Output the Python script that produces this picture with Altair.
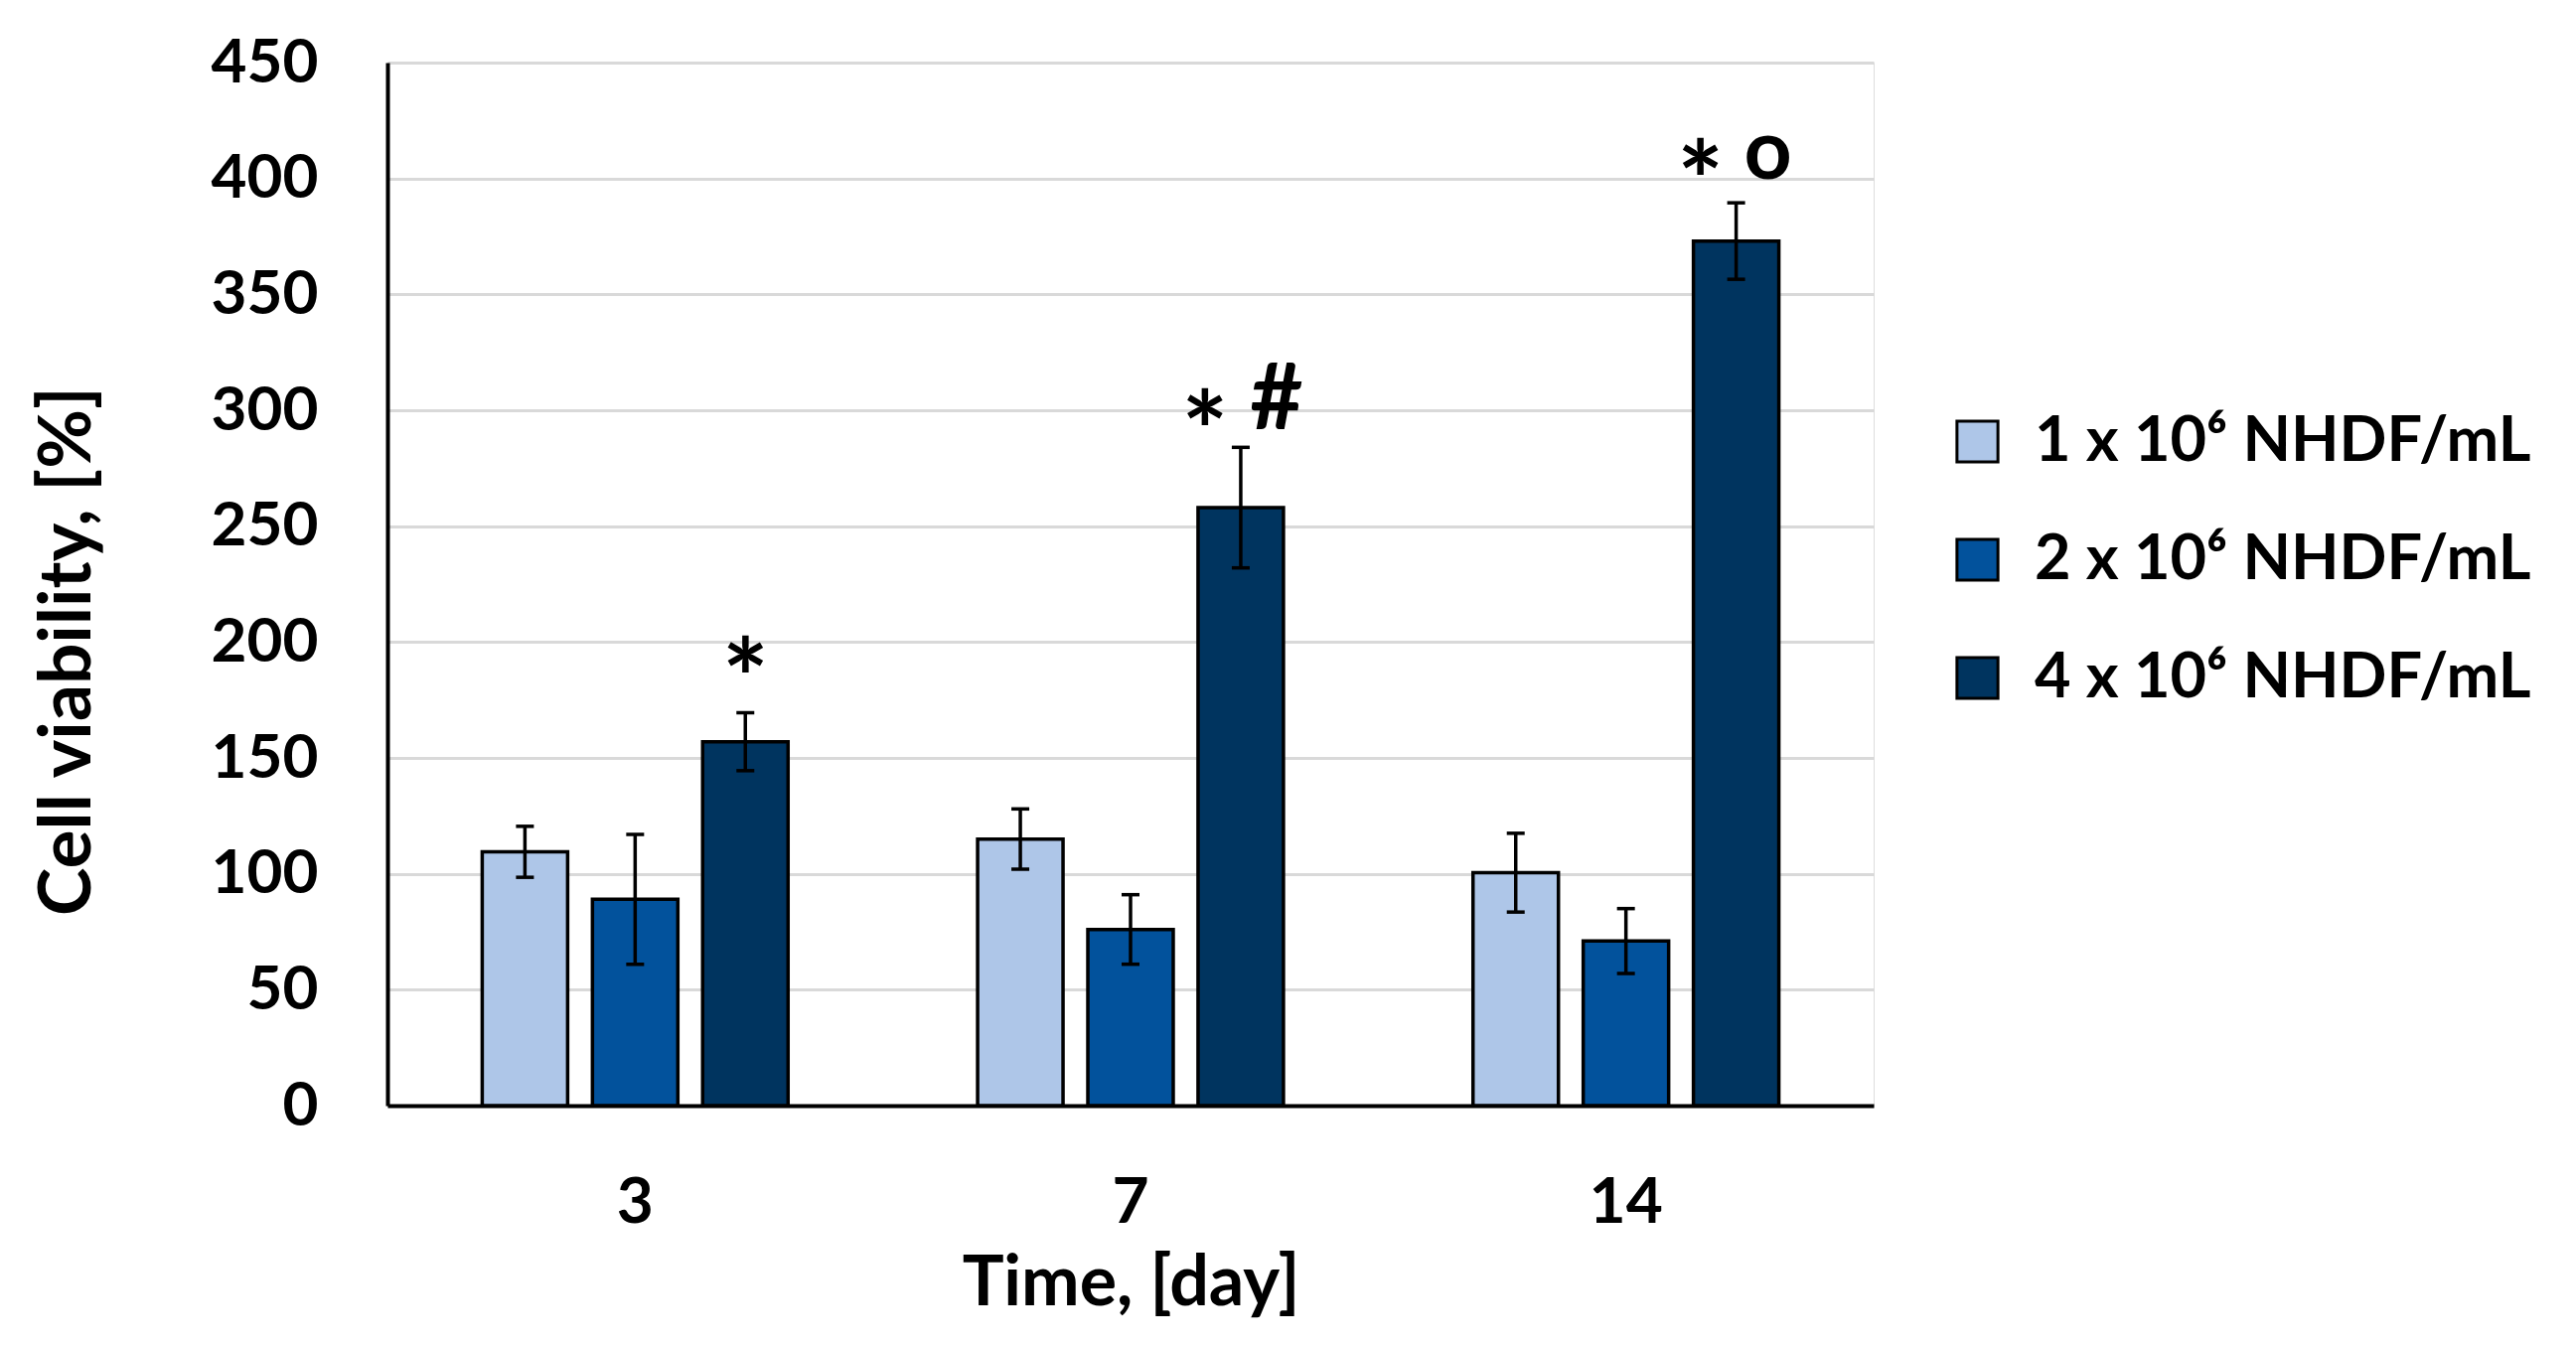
import altair as alt
import pandas as pd

# ---- data ----
days = ["3", "7", "14"]
series = ["1 x 10⁶ NHDF/mL", "2 x 10⁶ NHDF/mL", "4 x 10⁶ NHDF/mL"]
colors = ["#aec6e8", "#02529c", "#00345f"]

mean_1 = [109.5, 115.0, 100.5]
mean_2 = [89.0, 76.0, 71.0]
mean_4 = [157.0, 258.0, 373.0]
err_1 = [11.0, 13.0, 17.0]
err_2 = [28.0, 15.0, 14.0]
err_4 = [12.5, 26.0, 16.5]

# significance marks above the 4 x 10^6 bars
single_star_days = ["3"]
single_star_y = [167]
pair_days = ["7", "14"]
pair_star_y = [274, 382]
hash_days = ["7"]
hash_y = [292]
ring_days = ["14"]
ring_y = [400]

y_ticks = [0, 50, 100, 150, 200, 250, 300, 350, 400, 450]

# ---- tables ----
rows = []
for i, d in enumerate(days):
    for s, m, e in zip(series, [mean_1[i], mean_2[i], mean_4[i]], [err_1[i], err_2[i], err_4[i]]):
        rows.append({"day": d, "series": s, "mean": m, "lo": m - e, "hi": m + e})
df = pd.DataFrame(rows)


def ann(days_list, label, ys):
    return pd.DataFrame({"day": days_list, "series": [series[2]] * len(days_list),
                         "label": [label] * len(days_list), "y": ys})


star1 = ann(single_star_days, "*", single_star_y)
star2 = ann(pair_days, "*", pair_star_y)
hashes = ann(hash_days, "#", hash_y)
rings = ann(ring_days, "o", ring_y)

FONT = "Lato"

x_enc = alt.X(
    "day:N", sort=days, title="Time, [day]",
    scale=alt.Scale(paddingInner=0, paddingOuter=0),
    axis=alt.Axis(labelFontSize=64, labelFontWeight="bold", labelColor="black", labelAngle=0,
                  labelBaseline="alphabetic", labelPadding=117, ticks=False, tickSize=0,
                  domainColor="black", domainWidth=4, grid=False,
                  titleFontSize=70, titleFontWeight="bold", titleColor="black",
                  titleBaseline="alphabetic", titleY=200, titleX=748, titleAlign="center"),
)
xo_enc = alt.XOffset("series:N", sort=series,
                     scale=alt.Scale(paddingInner=0.225, paddingOuter=0.86))
y_scale = alt.Scale(domain=[0, 450], nice=False)
y_enc = alt.Y(
    "mean:Q", scale=y_scale, title="Cell viability, [%]",
    axis=alt.Axis(values=y_ticks, labelFontSize=62, labelFontWeight="bold", labelColor="black",
                  labelPadding=70, ticks=False, tickSize=0,
                  domainColor="black", domainWidth=4,
                  grid=True, gridColor="#d9d9d9", gridWidth=3,
                  titleFontSize=73, titleFontWeight="bold", titleColor="black",
                  titleAngle=270, titleBaseline="middle", titleAlign="center",
                  titleX=-322, titleY=592),
)

bars = alt.Chart(df).mark_bar(stroke="black", strokeWidth=3.5).encode(
    x=x_enc,
    xOffset=xo_enc,
    y=y_enc,
    fill=alt.Fill("series:N", sort=series,
                  scale=alt.Scale(domain=series, range=colors),
                  legend=alt.Legend(title=None, orient="none", legendX=1569, legendY=350,
                                    symbolType="square", symbolSize=1700,
                                    symbolStrokeColor="black", symbolStrokeWidth=3,
                                    symbolOpacity=1,
                                    labelFontSize=63, labelFontWeight="bold", labelColor="black",
                                    labelOffset=26, labelLimit=900, rowPadding=55, padding=0)),
)

common = dict(x=alt.X("day:N", sort=days), xOffset=alt.XOffset("series:N", sort=series))

rules = alt.Chart(df).mark_rule(color="black", strokeWidth=3.5).encode(
    y=alt.Y("lo:Q", scale=y_scale), y2="hi:Q", **common)
caps_hi = alt.Chart(df).mark_tick(color="black", thickness=3.5, size=18, opacity=1).encode(
    y=alt.Y("hi:Q", scale=y_scale), **common)
caps_lo = alt.Chart(df).mark_tick(color="black", thickness=3.5, size=18, opacity=1).encode(
    y=alt.Y("lo:Q", scale=y_scale), **common)


def marks(data, size, dx):
    return alt.Chart(data).mark_text(fontSize=size, fontWeight="bold", color="black",
                                     baseline="alphabetic", align="center", font=FONT,
                                     dx=dx).encode(
        y=alt.Y("y:Q", scale=y_scale), text="label:N", **common)


t_single = marks(star1, 110, 0)
t_pair_star = marks(star2, 110, -36)
t_hash = marks(hashes, 92, 36)
t_ring = marks(rings, 84, 32)

chart = alt.layer(bars, rules, caps_hi, caps_lo, t_single, t_pair_star, t_hash, t_ring).properties(
    width=1496, height=1050,
    autosize=alt.AutoSizeParams(type="none"),
    padding={"left": 382, "top": 55, "right": 699, "bottom": 234},
).configure_view(stroke=None).configure(font=FONT, background="white")

chart.save("out.html", embed_options={"renderer": "svg", "actions": False})
